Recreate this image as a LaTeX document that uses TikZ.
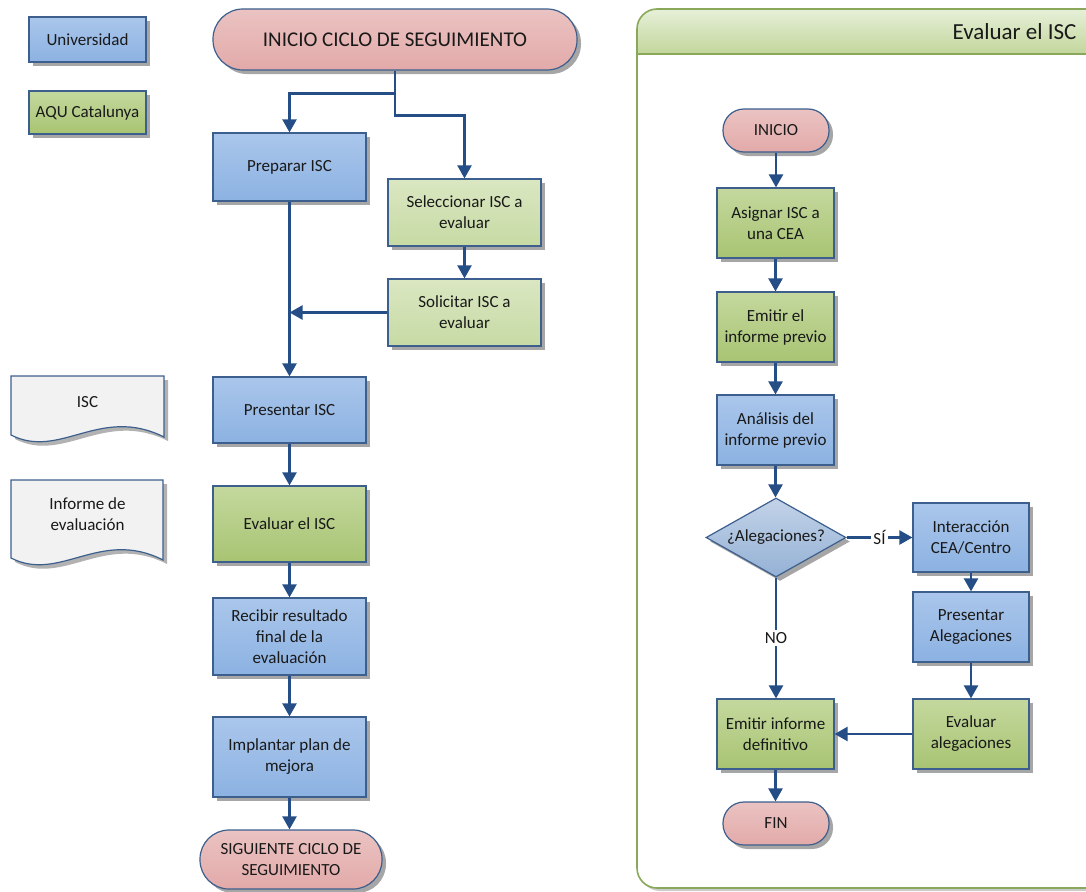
\documentclass[tikz,border=0pt]{standalone}
\usepackage{fontspec}
\setmainfont{Carlito}
\usetikzlibrary{arrows.meta,shadows,shapes.geometric,calc}
\definecolor{bluetop}{HTML}{AAC6EB}
\definecolor{bluebot}{HTML}{8CB2E2}
\definecolor{greentop}{HTML}{C4D89E}
\definecolor{greenbot}{HTML}{A8C472}
\definecolor{lgtop}{HTML}{DAE7C2}
\definecolor{lgbot}{HTML}{C7DAA4}
\definecolor{pinktop}{HTML}{EAC3C2}
\definecolor{pinkbot}{HTML}{E2AAA9}
\definecolor{diatop}{HTML}{C3D3E8}
\definecolor{diabot}{HTML}{94B1D5}
\definecolor{edgec}{HTML}{3C5F8D}
\definecolor{arrowc}{HTML}{254E86}
\definecolor{panelc}{HTML}{8AA85A}
\definecolor{docc}{HTML}{F2F2F2}
\definecolor{hdrtop}{HTML}{E6F0D9}
\definecolor{hdrbot}{HTML}{C3D69B}
\tikzset{
  shd/.style={drop shadow={shadow xshift=4pt, shadow yshift=-4pt, fill=black, opacity=0.35}},
  box/.style={rectangle, draw=edgec, line width=1.2pt, inner sep=2pt, align=center,
              font=\fontsize{17}{21}\selectfont, text=black!90, shd},
  sz/.style 2 args={minimum width=#1, minimum height=#2},
  ubox/.style={box, top color=bluetop, bottom color=bluebot},
  gbox/.style={box, top color=greentop, bottom color=greenbot},
  lbox/.style={box, top color=lgtop, bottom color=lgbot},
  term/.style={box, top color=pinktop, bottom color=pinkbot, rounded corners=#1},
  dia/.style={diamond, draw=edgec, line width=1.2pt, inner sep=0pt, shape aspect=1.77,
              top color=diatop, bottom color=diabot, text=black!90,
              font=\fontsize{17}{21}\selectfont, shd},
  arr/.style={draw=arrowc, line width=2.3pt, -{Triangle[length=13pt,width=14pt]}},
  lbl/.style={fill=white, inner sep=2pt, font=\fontsize{17}{21}\selectfont, text=black!90},
  doctxt/.style={align=center, font=\fontsize{17}{21}\selectfont, text=black!90},
}
\begin{document}
\begin{tikzpicture}[x=1pt, y=-1pt]
\useasboundingbox (0,0) rectangle (1086,891);

% ---------- right panel ----------
\fill[black, opacity=0.2, rounded corners=20pt] (640,12) rectangle (1115,891);
\fill[white, rounded corners=20pt] (637,9) rectangle (1110,888);
\begin{scope}
  \clip[rounded corners=20pt] (637,9) rectangle (1110,888);
  \shade[top color=hdrtop, bottom color=hdrbot] (637,9) rectangle (1110,54);
  \draw[panelc, line width=1.4pt] (637,54) -- (1110,54);
\end{scope}
\draw[panelc, line width=1.6pt, rounded corners=20pt] (637,9) rectangle (1110,888);
\node[anchor=east, font=\fontsize{23}{27}\selectfont, text=black!90] (ttl) at (1080,32) {Evaluar el ISC};

% ---------- legend ----------
\node[ubox, sz={117pt}{45pt}] (legU) at (87.5,39.5) {Universidad};
\node[gbox, sz={117pt}{43pt}] (legA) at (87.5,112.5) {AQU Catalunya};

% ---------- documents ----------
\fill[black, opacity=0.3] (15,380) -- (168,380) -- (168,441) .. controls (104,409) and (64,464) .. (15,439) -- cycle;
\filldraw[fill=docc, draw=edgec, line width=1.2pt] (11,376) -- (164,376) -- (164,437) .. controls (100,405) and (60,460) .. (11,435) -- cycle;
\node[doctxt] (dISC) at (87.5,402) {ISC};
\fill[black, opacity=0.3] (15,484) -- (167,484) -- (167,564) .. controls (104,532) and (64,587) .. (15,562) -- cycle;
\filldraw[fill=docc, draw=edgec, line width=1.2pt] (11,480) -- (163,480) -- (163,560) .. controls (100,528) and (60,583) .. (11,558) -- cycle;
\node[doctxt] (dInf) at (87.5,514) {Informe de\\evaluación};

% ---------- left flow ----------
\node[term=30pt, sz={364pt}{61pt}, font=\fontsize{21}{25}\selectfont] (start) at (395,39.5) {INICIO CICLO DE SEGUIMIENTO};
\node[ubox, sz={153pt}{68pt}] (prep) at (289.5,167) {Preparar ISC};
\node[lbox, sz={153pt}{67pt}] (sel) at (464.5,212.5) {Seleccionar ISC a\\evaluar};
\node[lbox, sz={153pt}{67pt}] (sol) at (464.5,312.5) {Solicitar ISC a\\evaluar};
\node[ubox, sz={153pt}{66pt}] (pres) at (289.5,410) {Presentar ISC};
\node[gbox, sz={153pt}{76pt}] (eval) at (289.5,524) {Evaluar el ISC};
\node[ubox, sz={153pt}{77pt}] (recv) at (289.5,636.5) {Recibir resultado\\final de la\\evaluación};
\node[ubox, sz={153pt}{80pt}] (impl) at (289.5,757) {Implantar plan de\\mejora};
\node[term=29pt, sz={182pt}{59pt}] (next) at (291,859.5) {SIGUIENTE CICLO DE\\SEGUIMIENTO};

\draw[arr] (start.south) -- ++(0,23) coordinate (j1) -| (prep.north);
\draw[arr] (j1) -- ++(0,22) -| (sel.north);
\draw[arr] (sel.south) -- (sol.north);
\draw[arr] (prep.south) -- (pres.north);
\draw[arr] (sol.west) -- (prep.south |- sol.west);
\draw[arr] (pres.south) -- (eval.north);
\draw[arr] (eval.south) -- (recv.north);
\draw[arr] (recv.south) -- (impl.north);
\draw[arr] (impl.south) -- (impl.south |- next.north);

% ---------- right flow ----------
\node[term=21pt, sz={106pt}{43pt}] (ini) at (776,130.5) {INICIO};
\node[gbox, sz={117pt}{70pt}] (asg) at (775.5,223) {Asignar ISC a\\una CEA};
\node[gbox, sz={117pt}{70pt}] (emi) at (775.5,327) {Emitir el\\informe previo};
\node[ubox, sz={117pt}{70pt}] (ana) at (775.5,430) {Análisis del\\informe previo};
\node[dia, minimum width=140pt, minimum height=79pt] (dec) at (776,537.5) {¿Alegaciones?};
\node[ubox, sz={116pt}{69pt}] (int) at (971,537.5) {Interacción\\CEA/Centro};
\node[ubox, sz={116pt}{70pt}] (pal) at (971,627) {Presentar\\Alegaciones};
\node[gbox, sz={116pt}{70pt}] (eva) at (971,734) {Evaluar\\alegaciones};
\node[gbox, sz={117pt}{70pt}] (emd) at (775.5,734) {Emitir informe\\definitivo};
\node[term=21pt, sz={106pt}{43pt}] (fin) at (776,823.5) {FIN};

\draw[arr] (ini.south) -- (ini.south |- asg.north);
\draw[arr] (asg.south) -- (emi.north);
\draw[arr] (emi.south) -- (ana.north);
\draw[arr] (ana.south) -- (ana.south |- dec.north);
\draw[arr] (dec.east) -- node[lbl] {SÍ} (int.west);
\draw[arr] (dec.south) -- node[lbl] {NO} (dec.south |- emd.north);
\draw[arr] (int.south) -- (pal.north);
\draw[arr] (pal.south) -- (eva.north);
\draw[arr] (eva.west) -- (emd.east);
\draw[arr] (emd.south) -- (emd.south |- fin.north);
\end{tikzpicture}
\end{document}
